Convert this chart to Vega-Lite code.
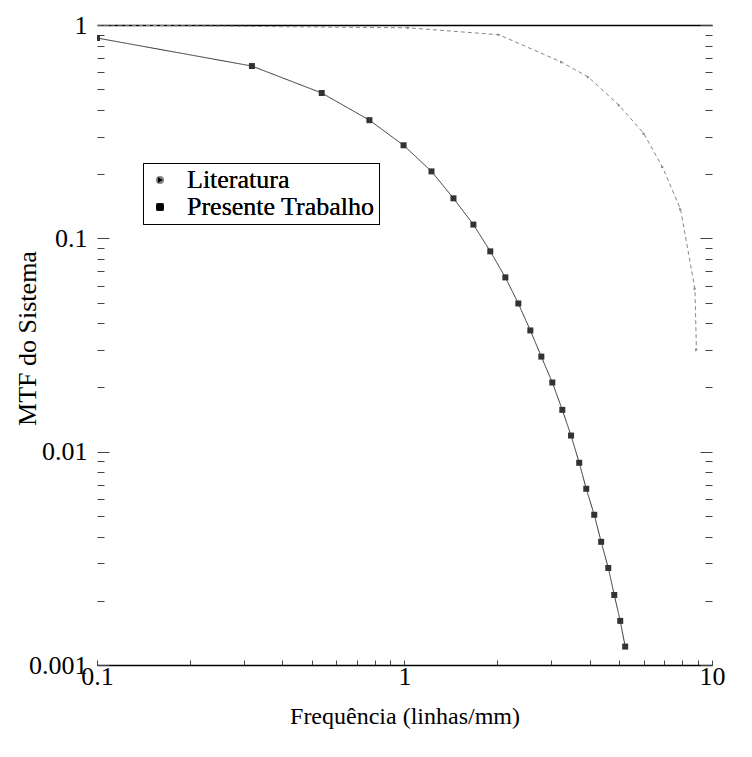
{
  "$schema": "https://vega.github.io/schema/vega-lite/v6.json",
  "autosize": "none",
  "width": 615,
  "height": 640,
  "padding": {"left": 97, "top": 25, "right": 40, "bottom": 92},
  "background": "white",
  "config": {
    "view": {"stroke": null},
    "font": "Liberation Serif",
    "axis": {"labelFont": "Liberation Serif", "titleFont": "Liberation Serif", "labelColor": "black", "titleColor": "black", "labelFontSize": 26, "titleFontSize": 24, "titleFontWeight": "normal", "grid": false, "domainColor": "black", "tickColor": "#444"},
    "legend": {"labelFont": "Liberation Serif", "labelFontSize": 26, "labelColor": "black", "labelLimit": 400}
  },
  "datasets": {
    "mtf": [
      {"f": 0.1, "mtf": 1.0, "serie": "Literatura"},
      {"f": 1.03, "mtf": 0.97, "serie": "Literatura"},
      {"f": 2.03, "mtf": 0.9, "serie": "Literatura"},
      {"f": 3.24, "mtf": 0.67, "serie": "Literatura"},
      {"f": 3.96, "mtf": 0.57, "serie": "Literatura"},
      {"f": 4.99, "mtf": 0.42, "serie": "Literatura"},
      {"f": 6.0, "mtf": 0.31, "serie": "Literatura"},
      {"f": 6.9, "mtf": 0.216, "serie": "Literatura"},
      {"f": 7.9, "mtf": 0.137, "serie": "Literatura"},
      {"f": 8.8, "mtf": 0.058, "serie": "Literatura"},
      {"f": 8.9, "mtf": 0.03, "serie": "Literatura"},
      {"f": 0.1, "mtf": 0.869, "serie": "Presente Trabalho"},
      {"f": 0.319, "mtf": 0.642, "serie": "Presente Trabalho"},
      {"f": 0.538, "mtf": 0.48, "serie": "Presente Trabalho"},
      {"f": 0.769, "mtf": 0.358, "serie": "Presente Trabalho"},
      {"f": 0.993, "mtf": 0.273, "serie": "Presente Trabalho"},
      {"f": 1.224, "mtf": 0.206, "serie": "Presente Trabalho"},
      {"f": 1.443, "mtf": 0.154, "serie": "Presente Trabalho"},
      {"f": 1.675, "mtf": 0.116, "serie": "Presente Trabalho"},
      {"f": 1.901, "mtf": 0.0869, "serie": "Presente Trabalho"},
      {"f": 2.128, "mtf": 0.0656, "serie": "Presente Trabalho"},
      {"f": 2.345, "mtf": 0.0495, "serie": "Presente Trabalho"},
      {"f": 2.566, "mtf": 0.037, "serie": "Presente Trabalho"},
      {"f": 2.786, "mtf": 0.0279, "serie": "Presente Trabalho"},
      {"f": 3.025, "mtf": 0.0211, "serie": "Presente Trabalho"},
      {"f": 3.26, "mtf": 0.0157, "serie": "Presente Trabalho"},
      {"f": 3.48, "mtf": 0.0119, "serie": "Presente Trabalho"},
      {"f": 3.7, "mtf": 0.00887, "serie": "Presente Trabalho"},
      {"f": 3.9, "mtf": 0.0067, "serie": "Presente Trabalho"},
      {"f": 4.14, "mtf": 0.00506, "serie": "Presente Trabalho"},
      {"f": 4.36, "mtf": 0.00378, "serie": "Presente Trabalho"},
      {"f": 4.6, "mtf": 0.00285, "serie": "Presente Trabalho"},
      {"f": 4.81, "mtf": 0.00213, "serie": "Presente Trabalho"},
      {"f": 5.03, "mtf": 0.00161, "serie": "Presente Trabalho"},
      {"f": 5.22, "mtf": 0.00122, "serie": "Presente Trabalho"}
    ]
  },
  "data": {"name": "mtf"},
  "layer": [
    {
      "mark": {"type": "line", "strokeWidth": 1, "clip": true},
      "encoding": {
        "x": {"field": "f", "type": "quantitative",
          "scale": {"type": "log", "domain": [0.1, 10], "nice": false},
          "axis": {"orient": "bottom", "title": "Frequência (linhas/mm)", "titlePadding": 15,
            "values": [0.1,0.2,0.3,0.4,0.5,0.6,0.7,0.8,0.9,1,2,3,4,5,6,7,8,9,10],
            "labelExpr": "indexof([0.1,1,10], datum.value) >= 0 ? format(datum.value, '~g') : ''",
            "tickSize": -5, "labelPadding": 3, "domainWidth": 1.5, "labelFlush": false}},
        "y": {"field": "mtf", "type": "quantitative",
          "scale": {"type": "log", "domain": [0.001, 1], "nice": false},
          "axis": {"orient": "left", "title": "MTF do Sistema", "titleFontSize": 26, "titleX": -57, "titleY": 313,
            "values": [0.001,0.002,0.003,0.004,0.005,0.006,0.007,0.008,0.009,0.01,0.02,0.03,0.04,0.05,0.06,0.07,0.08,0.09,0.1,0.2,0.3,0.4,0.5,0.6,0.7,0.8,0.9,1],
            "labelExpr": "indexof([0.001,0.01,0.1,1], datum.value) >= 0 ? format(datum.value, '~g') : ''",
            "tickSize": {"condition": {"test": "indexof([0.001,0.01,0.1,1], datum.value) >= 0", "value": -12}, "value": -7},
            "domain": false, "labelPadding": 22, "labelFlush": false}},
        "color": {"field": "serie", "type": "nominal", "scale": {"range": ["#888", "#333"]},
          "legend": {"title": null, "orient": "none", "legendX": 46, "legendY": 138, "symbolSize": 45, "symbolStrokeColor": "black", "symbolFillColor": "black", "strokeColor": "black", "padding": 4, "rowPadding": 1, "labelOffset": 14}},
        "strokeDash": {"field": "serie", "type": "nominal", "scale": {"range": [[4, 3], [1, 0]]}, "legend": null}
      }
    },
    {
      "mark": {"type": "point", "filled": true, "opacity": 1, "clip": true},
      "encoding": {
        "x": {"field": "f", "type": "quantitative", "axis": null},
        "y": {"field": "mtf", "type": "quantitative", "axis": null},
        "shape": {"field": "serie", "type": "nominal", "scale": {"range": ["triangle-right", "square"]},
          "legend": {"title": null, "orient": "none", "legendX": 46, "legendY": 138, "symbolSize": 45, "symbolStrokeColor": "black", "symbolFillColor": "black", "strokeColor": "black", "padding": 4, "rowPadding": 1, "labelOffset": 14}},
        "size": {"field": "serie", "type": "nominal", "scale": {"range": [10, 36]},
          "legend": {"title": null, "orient": "none", "legendX": 46, "legendY": 138, "symbolSize": 45, "symbolStrokeColor": "black", "symbolFillColor": "black", "strokeColor": "black", "padding": 4, "rowPadding": 1, "labelOffset": 14}},
        "color": {"field": "serie", "type": "nominal",
          "legend": {"title": null, "orient": "none", "legendX": 46, "legendY": 138, "symbolSize": 45, "symbolStrokeColor": "black", "symbolFillColor": "black", "strokeColor": "black", "padding": 4, "rowPadding": 1, "labelOffset": 14}}
      }
    },
    {
      "mark": {"type": "point", "opacity": 0},
      "encoding": {
        "x": {"field": "f", "type": "quantitative",
          "axis": {"orient": "top", "title": null, "labels": false, "ticks": false, "domainWidth": 1.5}},
        "y": {"field": "mtf", "type": "quantitative",
          "axis": {"orient": "right", "title": null, "labels": false, "domain": false,
            "values": [0.001,0.002,0.003,0.004,0.005,0.006,0.007,0.008,0.009,0.01,0.02,0.03,0.04,0.05,0.06,0.07,0.08,0.09,0.1,0.2,0.3,0.4,0.5,0.6,0.7,0.8,0.9,1],
            "tickSize": {"condition": {"test": "indexof([0.001,0.01,0.1,1], datum.value) >= 0", "value": -12}, "value": -7}}}
      }
    }
  ],
  "resolve": {"axis": {"x": "independent", "y": "independent"}}
}
